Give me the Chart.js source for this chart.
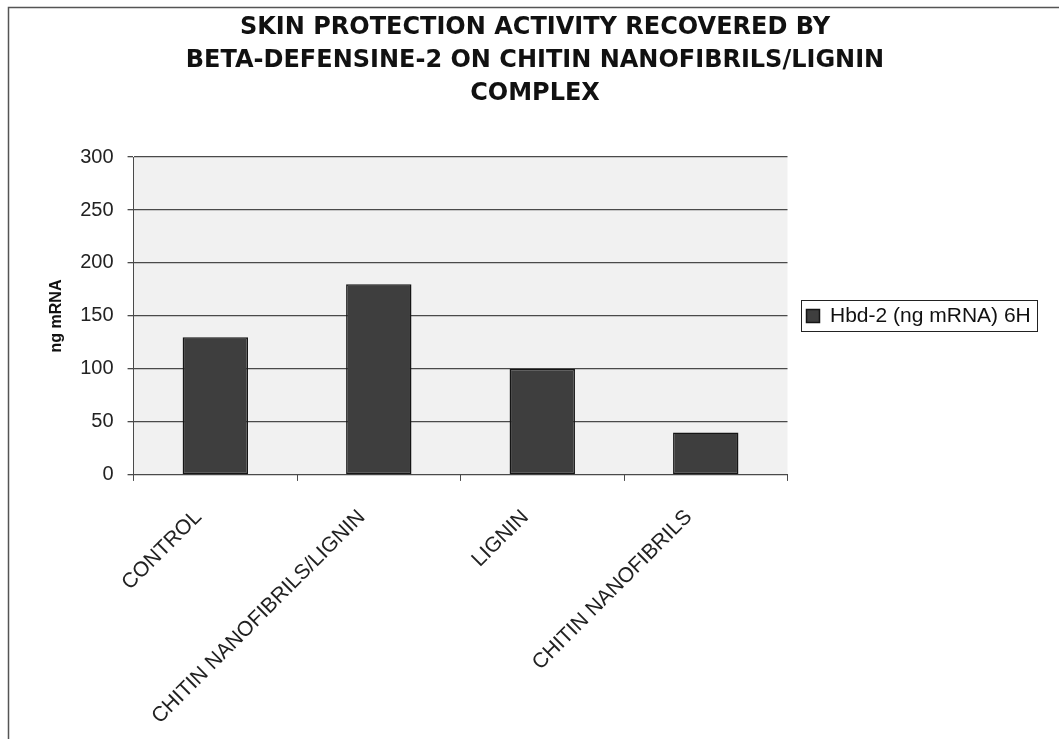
<!DOCTYPE html>
<html>
<head>
<meta charset="utf-8">
<title>Hbd-2 ng mRNA</title>
<script src="https://cdn.jsdelivr.net/npm/chart.js@4.4.0/dist/chart.umd.min.js"></script>
<style>
    html, body { margin: 0; padding: 0; background: #fff; }
    #wrap { width: 1059px; height: 739px; }
</style>
</head>
<body>
<div id="wrap"><canvas id="myChart" width="1059" height="739"></canvas></div>
<script>
// Données du graphique
const categories = ['CONTROL', 'CHITIN NANOFIBRILS/LIGNIN', 'LIGNIN', 'CHITIN NANOFIBRILS'];
const hbd2Values = [130, 180, 100, 40];
const seriesLabel = 'Hbd-2 (ng mRNA) 6H';
const yAxisLabel = 'ng mRNA';
const titleLines = [
    'SKIN PROTECTION ACTIVITY RECOVERED BY',
    'BETA-DEFENSINE-2 ON CHITIN NANOFIBRILS/LIGNIN',
    'COMPLEX'
];
const yRange = { min: 0, max: 300, step: 50 };

const FONT = "'Liberation Sans', Arial, sans-serif";
const LINE = '#4a4a4a';

// Fond blanc, zone de tracé grise et cadre extérieur
const framePlugin = {
    id: 'frame',
    beforeDraw(chart) {
        const { ctx, chartArea: a } = chart;
        ctx.save();
        ctx.fillStyle = '#fff';
        ctx.fillRect(0, 0, chart.width, chart.height);
        ctx.fillStyle = '#f1f1f1';
        ctx.fillRect(a.left, a.top, a.right - a.left, a.bottom - a.top);
        ctx.strokeStyle = '#555';
        ctx.lineWidth = 1.5;
        ctx.strokeRect(8.5, 7.5, chart.width + 20, chart.height + 20);
        ctx.restore();
    }
};

// Cadre autour de la légende
const legendBoxPlugin = {
    id: 'legendBox',
    afterDraw(chart) {
        const boxes = chart.legend && chart.legend.legendHitBoxes;
        if (!boxes || !boxes.length) return;
        const b = boxes[0];
        const ctx = chart.ctx;
        ctx.save();
        ctx.strokeStyle = '#222';
        ctx.lineWidth = 1;
        ctx.strokeRect(Math.round(b.left - 6) + 0.5, Math.round(b.top - 5) + 0.5,
            Math.round(b.width + 12), Math.round(b.height + 10));
        ctx.restore();
    }
};

const ctx = document.getElementById('myChart').getContext('2d');

const myChart = new Chart(ctx, {
    type: 'bar',
    data: {
        labels: categories,
        datasets: [{
            label: seriesLabel,
            data: hbd2Values,
            backgroundColor: '#3e3e3e',
            borderColor: '#151515',
            borderWidth: 1.5,
            borderSkipped: false,
            barPercentage: 0.4,
            categoryPercentage: 1.0
        }]
    },
    options: {
        responsive: false,
        animation: false,
        devicePixelRatio: 1,
        layout: {
            padding: { left: 30, right: 19, top: 0, bottom: -14 }
        },
        plugins: {
            title: {
                display: true,
                text: titleLines,
                color: '#111',
                font: { family: "'DejaVu Sans', sans-serif", size: 24, weight: 'bold', lineHeight: 1.375 },
                padding: { top: 11, bottom: 47 }
            },
            legend: {
                position: 'right',
                fullSize: false,
                labels: {
                    color: '#111',
                    font: { family: FONT, size: 21 },
                    boxWidth: 13,
                    boxHeight: 13,
                    padding: 19
                }
            },
            tooltip: { enabled: false }
        },
        scales: {
            x: {
                grid: {
                    drawOnChartArea: false,
                    drawTicks: true,
                    tickLength: 6,
                    offset: true,
                    color: LINE
                },
                border: { color: LINE, width: 1 },
                ticks: {
                    color: '#222',
                    font: { family: FONT, size: 21 },
                    minRotation: 45,
                    maxRotation: 45,
                    autoSkip: false,
                    padding: 24,
                    labelOffset: -17
                }
            },
            y: {
                min: yRange.min,
                max: yRange.max,
                grid: {
                    color: LINE,
                    lineWidth: 1.3,
                    tickLength: 6
                },
                border: { color: LINE, width: 1 },
                ticks: {
                    stepSize: yRange.step,
                    color: '#222',
                    font: { family: FONT, size: 20 },
                    padding: 14
                },
                title: {
                    display: true,
                    text: yAxisLabel,
                    color: '#111',
                    font: { family: FONT, size: 16, weight: 'bold' },
                    padding: { top: 17, bottom: 0 }
                }
            }
        }
    },
    plugins: [framePlugin, legendBoxPlugin]
});
</script>
</body>
</html>
